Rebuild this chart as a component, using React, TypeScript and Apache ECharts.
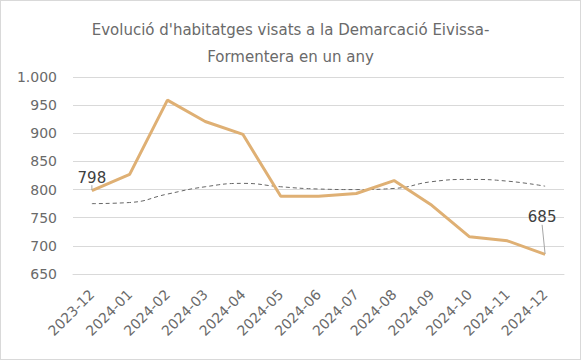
import React, { useEffect, useRef } from "react";
import * as echarts from "echarts";

const categories = [
  "2023-12", "2024-01", "2024-02", "2024-03", "2024-04", "2024-05", "2024-06",
  "2024-07", "2024-08", "2024-09", "2024-10", "2024-11", "2024-12",
];
const visats = [798, 827, 959, 921, 898, 788, 788, 793, 816, 772, 716, 709, 685];
const tendencia = [775, 777, 792, 805, 811, 805, 801, 800, 802, 814, 818, 815, 806];
const yTicks = { min: 650, max: 1000, interval: 50 };

const FONT = "DejaVu Sans";
const TXT = "#6a6a6a";

export default function App() {
  const ref = useRef<HTMLDivElement>(null);
  useEffect(() => {
    document.body.style.margin = "0";
    const chart = echarts.init(ref.current!, null, { renderer: "svg" });
    const last = visats.length - 1;
    chart.setOption({
      animation: false,
      backgroundColor: "#ffffff",
      title: {
        text: "Evolució d'habitatges visats a la Demarcació Eivissa-\nFormentera en un any",
        left: "center",
        top: 10,
        textStyle: {
          fontFamily: FONT,
          fontSize: 15,
          fontWeight: "normal",
          color: TXT,
          lineHeight: 27,
        },
      },
      grid: { left: 72, right: 16, top: 76, bottom: 85, containLabel: false },
      xAxis: {
        type: "category",
        data: categories,
        boundaryGap: true,
        axisLine: { show: true, lineStyle: { color: "#d9d9d9" } },
        axisTick: { show: false },
        axisLabel: {
          rotate: 45,
          margin: 18,
          fontFamily: FONT,
          fontSize: 14,
          color: TXT,
          interval: 0,
        },
      },
      yAxis: {
        type: "value",
        min: yTicks.min,
        max: yTicks.max,
        interval: yTicks.interval,
        axisLine: { show: false },
        axisTick: { show: false },
        splitLine: { lineStyle: { color: "#d9d9d9", width: 1 } },
        axisLabel: {
          margin: 16,
          fontFamily: FONT,
          fontSize: 14,
          color: TXT,
          formatter: (v: number) =>
            v >= 1000 ? `${Math.floor(v / 1000)}.${String(v % 1000).padStart(3, "0")}` : String(v),
        },
      },
      series: [
        {
          name: "Tendència",
          type: "line",
          data: tendencia,
          smooth: true,
          showSymbol: false,
          symbol: "none",
          lineStyle: { color: "#666666", width: 1, type: [4, 3] },
          z: 2,
        },
        {
          name: "Visats",
          type: "line",
          data: visats.map((v, i) =>
            i === 0 || i === last
              ? { value: v, label: { show: true } }
              : v
          ),
          showSymbol: true,
          symbol: "circle",
          symbolSize: 1,
          itemStyle: { color: "rgba(0,0,0,0)" },
          lineStyle: { color: "#DFB074", width: 3 },
          label: {
            show: false,
            position: "top",
            distance: 5,
            fontFamily: FONT,
            fontSize: 15,
            color: "#404040",
          },
          labelLine: { show: true, lineStyle: { color: "#a6a6a6", width: 1 } },
          labelLayout: (p: any) =>
            p.dataIndex === last ? { dy: -24, dx: -3 } : {},
          z: 3,
        },
      ],
    });
    return () => chart.dispose();
  }, []);
  return (
    <div
      ref={ref}
      style={{
        position: "absolute",
        left: 0,
        top: 0,
        width: 581,
        height: 360,
        boxSizing: "border-box",
        border: "1px solid #d9d9d9",
      }}
    />
  );
}
